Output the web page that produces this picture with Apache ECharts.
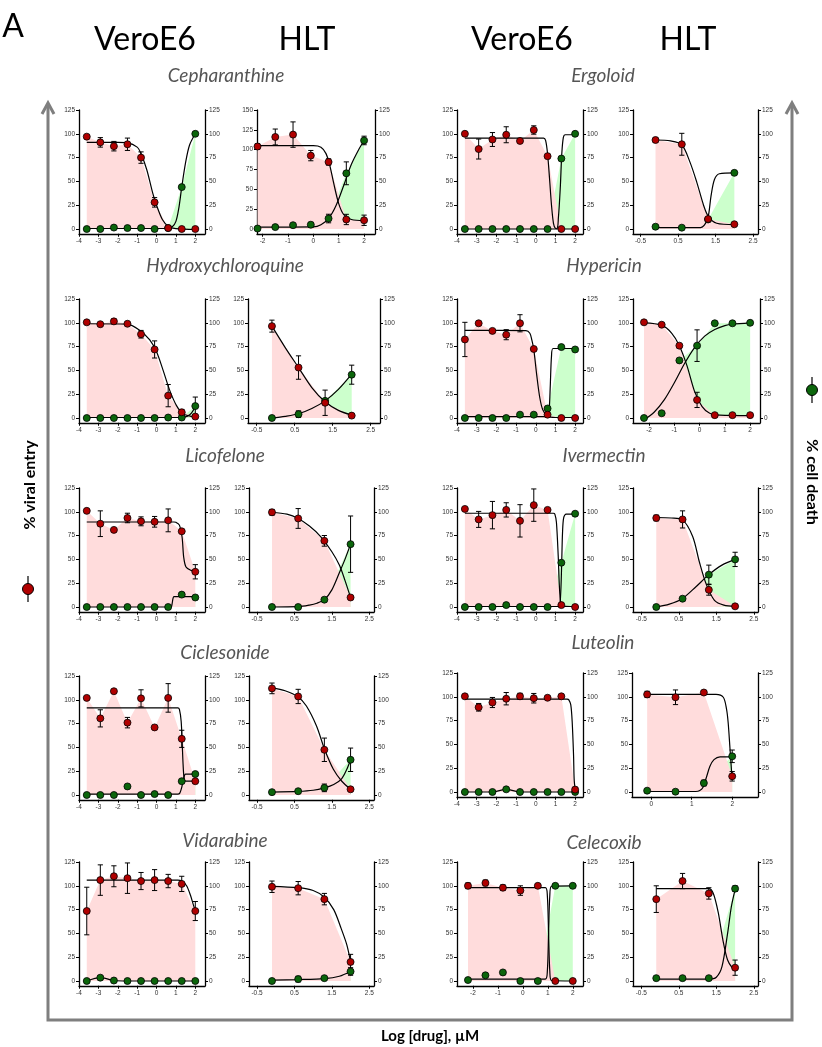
<!DOCTYPE html>
<html><head><meta charset="utf-8">
<script src="https://cdn.jsdelivr.net/npm/echarts@6/dist/echarts.min.js"></script>
<style>html,body{margin:0;padding:0;background:#fff}#c{width:822px;height:1047px}</style>
</head><body><div id="c"></div>
<script>
// ---------- x positions (log µM) ----------
const X9 = [-3.6, -2.9, -2.2, -1.5, -0.8, -0.1, 0.6, 1.3, 2.0];
const X7 = [-2.2, -1.5, -0.8, -0.1, 0.6, 1.3, 2.0];
const X4 = [-0.1, 0.6, 1.3, 2.0];

// ---------- tick labels ----------
const TICKS_Y = [0, 25, 50, 75, 100, 125];
const TICKS_Y150 = [0, 25, 50, 75, 100, 125, 150];
const TICKS_VERO = [-4, -3, -2, -1, 0, 1, 2];
const TICKS_LOG2 = [-2, -1, 0, 1, 2];
const TICKS_HALF = [-0.5, 0.5, 1.5, 2.5];
const TICKS_INT = [0, 1, 2];

const COLUMN_TITLES = ['VeroE6', 'HLT', 'VeroE6', 'HLT'];
const DRUGS = ['Cepharanthine', 'Ergoloid', 'Hydroxychloroquine', 'Hypericin', 'Licofelone',
  'Ivermectin', 'Ciclesonide', 'Luteolin', 'Vidarabine', 'Celecoxib'];

// ---------- Cepharanthine ----------
const cephVeroEntry = [97, 91, 87, 89, 75, 28, 1, 0, 0];
const cephVeroEntryErr = [null, 5, 5, 6.5, 6, 5, null, null, null];
const cephVeroDeath = [0, 0, 1.5, 1, 1, 0, 1, 44, 100];
const cephVeroDeathErr = [];
const cephVeroEntryFit = [[-3.6, 91], [-2, 91], [-1.5, 90.5], [-1.0, 86], [-0.8, 79], [-0.5, 62], [-0.2, 38], [0, 25], [0.3, 10], [0.6, 3], [1.0, 0.3], [2.0, -0.5]];
const cephVeroDeathFit = [[-3.6, 0.5], [0.5, 0.5], [0.8, 2], [1.0, 8], [1.15, 22], [1.3, 44], [1.5, 70], [1.7, 88], [2.0, 100]];

const cephHltEntry = [104, 116, 119, 92.5, 84.5, 12, 11];
const cephHltEntryErr = [3.5, 10, 16, 6.5, 4, 6.5, 6.5];
const cephHltDeath = [0.5, 2, 4, 4.5, 11, 58.5, 93];
const cephHltDeathErr = [null, null, null, 2.5, 4.5, 12, 4.5];
const cephHltEntryFit = [[-2.2, 105], [0, 105], [0.3, 103], [0.5, 95], [0.65, 80], [0.8, 58], [1.0, 32], [1.2, 18], [1.5, 12], [2.0, 10.5]];
const cephHltDeathFit = [[-2.2, 2], [0, 2.2], [0.3, 4.5], [0.6, 11], [0.9, 25], [1.2, 46], [1.5, 68], [1.8, 84], [2.0, 93]];

// ---------- Ergoloid ----------
const ergoVeroEntry = [100, 84, 94, 99, 92.5, 104, 76.5, 0, 0];
const ergoVeroEntryErr = [null, 10.5, 7.3, 8.4, null, 4.4, null, null, null];
const ergoVeroDeath = [0, 0, 0, 0, 0, 0, 0, 74, 100];
const ergoVeroDeathErr = [];
const ergoVeroEntryFit = [[-3.6, 95.5], [0.4, 95.5], [0.5, 93], [0.6, 79], [0.7, 53], [0.8, 25], [0.9, 6], [1.0, 0.7], [1.2, 0], [2.0, 0]];
const ergoVeroDeathFit = [[-3.6, 0], [1.05, 0], [1.15, 12], [1.25, 45], [1.32, 78], [1.4, 96], [1.5, 99], [2.0, 99]];

const ergoHltEntry = [93.5, 89, 10.5, 5];
const ergoHltEntryErr = [2.3, 11.5, null, null];
const ergoHltDeath = [2.4, 1.4, 10, 59];
const ergoHltDeathErr = [];
const ergoHltEntryFit = [[-0.1, 93.5], [0.3, 92.5], [0.6, 88.5], [0.82, 70], [1.0, 49], [1.18, 25], [1.31, 13], [1.53, 6], [2.0, 4.5]];
const ergoHltDeathFit = [[-0.1, 1.5], [1.1, 1.5], [1.2, 4], [1.3, 12], [1.38, 35], [1.47, 52], [1.6, 58], [2.0, 59]];

// ---------- Hydroxychloroquine ----------
const hcqVeroEntry = [100.5, 98.5, 101.5, 99, 88, 72, 23.5, 6, 1.5];
const hcqVeroEntryErr = [null, null, 2.5, null, 4, 9, 11.7, 3, null];
const hcqVeroDeath = [0, 0, 0, 0, 0, 0, 0.5, 0.5, 12.5];
const hcqVeroDeathErr = [null, null, null, null, null, null, null, null, 9.5];
const hcqVeroEntryFit = [[-3.6, 99], [-1.5, 98.7], [-0.86, 92], [-0.35, 82], [0, 69.5], [0.34, 50], [0.68, 29], [1.03, 13], [1.37, 4.5], [2.0, 1]];
const hcqVeroDeathFit = [[-3.6, 0.5], [1.3, 0.5], [1.6, 2], [1.8, 5], [2.0, 12]];

const hcqHltEntry = [96.5, 53, 16, 2.5];
const hcqHltEntryErr = [6.3, 12.3, 13.3, null];
const hcqHltDeath = [0, 4, 18, 45.5];
const hcqHltDeathErr = [null, 3.5, null, 10];
const hcqHltEntryFit = [[-0.1, 96.5], [0.25, 74], [0.6, 53], [0.95, 32], [1.3, 17], [1.65, 8], [2.0, 3]];
const hcqHltDeathFit = [[-0.1, 0], [0.25, 1.8], [0.6, 4.5], [0.95, 10], [1.3, 18], [1.65, 30], [2.0, 46]];

// ---------- Hypericin ----------
const hypVeroEntry = [82.5, 99.5, 91.5, 87.5, 99.5, 72.5, 3.5, 0, 0];
const hypVeroEntryErr = [18, null, null, 5.3, 9, null, null, null, null];
const hypVeroDeath = [0, 0, 0, 0, 3.5, 3.5, 10, 74.5, 72];
const hypVeroDeathErr = [];
const hypVeroEntryFit = [[-3.6, 92], [-0.5, 91.8], [-0.3, 89], [-0.2, 82], [-0.1, 72], [0.05, 45], [0.2, 22], [0.35, 9], [0.6, 2], [1.0, 0.5], [2.0, 0.5]];
const hypVeroDeathFit = [[-3.6, 1.5], [0.6, 1.5], [0.68, 8], [0.74, 35], [0.8, 65], [0.88, 73], [2.0, 73]];

const hypHltEntry = [100.5, 98, 76, 19, 3, 3, 3];
const hypHltEntryErr = [null, null, null, 8, null, null, null];
const hypHltDeath = [0, 5, 60.5, 76, 99.5, 99.5, 100];
const hypHltDeathErr = [null, null, null, 16.6, null, null, null];
const hypHltEntryFit = [[-2.2, 100], [-1.5, 97.5], [-1.1, 89], [-0.8, 76], [-0.5, 55], [-0.2, 28], [0.1, 12], [0.4, 5], [0.8, 3], [2.0, 2.5]];
const hypHltDeathFit = [[-2.2, -2], [-1.8, 6], [-1.4, 19], [-1.0, 37], [-0.6, 57], [-0.2, 74], [0.2, 86], [0.6, 93], [1.0, 97], [1.3, 98.5], [2.0, 100]];

// ---------- Licofelone ----------
const licoVeroEntry = [101, 87.5, 81, 93.5, 90, 89.5, 91, 79.5, 37];
const licoVeroEntryErr = [null, 13.5, null, 5, 4.7, 5.6, 12, null, 7.5];
const licoVeroDeath = [0, 0, 0, 0, 0, 0, 0, 13, 10];
const licoVeroDeathErr = [];
const licoVeroEntryFit = [[-3.6, 89.3], [0.9, 89.3], [1.0, 89], [1.18, 86], [1.32, 73], [1.4, 52.5], [1.52, 42], [1.78, 38.5], [2.0, 37.5]];
const licoVeroDeathFit = [[-3.6, 0], [0.75, 0], [0.8, 3], [0.85, 9], [0.9, 11], [2.0, 11]];

const licoHltEntry = [99.5, 93, 69.5, 10];
const licoHltEntryErr = [3, 10.4, 5.6, null];
const licoHltDeath = [0, 0, 7.7, 66];
const licoHltDeathErr = [null, null, null, 29.6];
const licoHltEntryFit = [[-0.1, 99.5], [0.3, 97.5], [0.6, 93], [0.9, 85], [1.2, 74], [1.5, 58], [1.7, 44], [1.85, 28], [2.0, 10]];
const licoHltDeathFit = [[-0.1, 0], [0.6, 0.3], [0.9, 2], [1.1, 4], [1.3, 7.7], [1.5, 18], [1.7, 36], [1.85, 50], [2.0, 66]];

// ---------- Ivermectin ----------
const iverVeroEntry = [103, 92, 96.5, 102, 90.5, 107, 102, 2, 0];
const iverVeroEntryErr = [null, 8.4, 14.4, 7.5, 17, 17, null, null, null];
const iverVeroDeath = [0, 0, 0, 2, 0, 0, 0, 46.5, 98];
const iverVeroDeathErr = [];
const iverVeroEntryFit = [[-3.6, 98.5], [0.9, 98.5], [0.97, 97.5], [1.05, 89], [1.14, 54], [1.2, 22], [1.27, 4.6], [1.39, 1], [2.0, 0.5]];
const iverVeroDeathFit = [[-3.6, 0.5], [1.18, 0.5], [1.23, 3], [1.28, 20], [1.32, 48], [1.36, 78], [1.42, 94], [1.55, 97.5], [2.0, 97.5]];

const iverHltEntry = [93.5, 92, 18, 0.7];
const iverHltEntryErr = [3, 9, 5.6, null];
const iverHltDeath = [0, 8.7, 34, 50];
const iverHltDeathErr = [null, null, 10, 7.5];
const iverHltEntryFit = [[-0.1, 94], [0.3, 93.5], [0.6, 91.5], [0.87, 74], [1.05, 47], [1.23, 24], [1.45, 7], [1.7, 2], [2.0, 0.7]];
const iverHltDeathFit = [[-0.1, 0], [0.25, 3], [0.6, 9], [0.95, 21], [1.3, 34], [1.65, 44], [2.0, 50]];

// ---------- Ciclesonide ----------
const ciclVeroEntry = [102, 80.5, 109, 76, 101.5, 71, 102, 59, 14.5];
const ciclVeroEntryErr = [null, 9, null, 5.5, 9, null, 15, 9, null];
const ciclVeroDeath = [0, 0, 0, 9, 0, 1, 0, 14.5, 22];
const ciclVeroDeathErr = [];
const ciclVeroEntryFit = [[-3.6, 91.5], [1.1, 91.5], [1.18, 90], [1.27, 77.5], [1.32, 56.5], [1.37, 32], [1.42, 18], [1.5, 14.5], [2.0, 14.5]];
const ciclVeroDeathFit = [[-3.6, 1], [1.1, 1], [1.2, 2], [1.3, 8], [1.38, 16], [1.45, 21], [1.5, 22], [2.0, 22]];

const ciclHltEntry = [112, 103.5, 47.5, 6];
const ciclHltEntryErr = [5.6, 7.5, 12.3, null];
const ciclHltDeath = [3, 4, 7.5, 37];
const ciclHltDeathErr = [null, null, 4, 12.3];
const ciclHltEntryFit = [[-0.1, 112.5], [0.25, 109.5], [0.6, 103], [0.82, 93.5], [1.09, 72.5], [1.31, 47.5], [1.54, 27], [1.76, 14.7], [2.0, 6]];
const ciclHltDeathFit = [[-0.1, 3], [0.6, 3.8], [1.0, 5], [1.3, 7.5], [1.55, 11], [1.76, 17], [1.9, 27], [2.0, 37]];

// ---------- Luteolin ----------
const luteVeroEntry = [100.5, 89, 94, 98, 100.5, 98.5, 99, 100.5, 2.5];
const luteVeroEntryErr = [null, 4, 5.3, 6.5, 3.2, 5, null, 1.5, 2.5];
const luteVeroDeath = [0, 0, 0, 2.8, 0, 0, 0, 0, 0];
const luteVeroDeathErr = [];
const luteVeroEntryFit = [[-3.6, 97.5], [1.6, 97.5], [1.68, 96.8], [1.78, 91.5], [1.85, 74], [1.92, 38.7], [1.95, 14], [2.0, 2.5]];
const luteVeroDeathFit = [[-3.6, 0], [-2.9, 0], [-2.2, 0], [-1.5, 2.8], [-0.8, 0], [-0.1, 0], [0.6, 0], [1.3, 0], [2.0, 0]];

const luteHltEntry = [102.5, 99.5, 104.5, 16.5];
const luteHltEntryErr = [3.3, 7.7, 2, 5];
const luteHltDeath = [1.4, 0.3, 9.4, 37.5];
const luteHltDeathErr = [null, null, 3, 6.6];
const luteHltEntryFit = [[-0.1, 102.5], [1.6, 102.5], [1.78, 99.5], [1.86, 87], [1.9, 73], [1.94, 49], [1.98, 24], [2.0, 13]];
const luteHltDeathFit = [[-0.1, 0.5], [1.1, 0.5], [1.2, 1.5], [1.28, 5], [1.36, 15], [1.45, 27], [1.55, 34], [1.7, 37], [2.0, 37]];

// ---------- Vidarabine ----------
const vidaVeroEntry = [73.5, 106, 110, 108, 105, 106, 105, 102, 73.5];
const vidaVeroEntryErr = [25, 16, 11, 16, 9, 11, 7, 8, 10];
const vidaVeroDeath = [0, 3.5, 0.5, 0, 0, 0, 0, 0, 0];
const vidaVeroDeathErr = [];
const vidaVeroEntryFit = [[-3.6, 106], [1.1, 106], [1.3, 105], [1.55, 100], [1.75, 90], [1.9, 80], [2.0, 74]];
const vidaVeroDeathFit = [[-3.6, 0], [-2.9, 3.5], [-2.2, 0.5], [-1.5, 0], [-0.8, 0], [-0.1, 0], [0.6, 0], [1.3, 0], [2.0, 0]];

const vidaHltEntry = [99, 97.5, 86, 20];
const vidaHltEntryErr = [6, 7, 6, 8];
const vidaHltDeath = [0, 2, 3, 10];
const vidaHltDeathErr = [null, 3, null, 4];
const vidaHltEntryFit = [[-0.1, 99.5], [0.6, 98], [1.0, 95], [1.3, 88], [1.55, 75], [1.75, 55], [1.9, 38], [2.0, 20]];
const vidaHltDeathFit = [[-0.1, 1], [0.6, 1.5], [1.3, 2.5], [1.7, 5], [2.0, 10]];

// ---------- Celecoxib ----------
const celeVeroEntry = [100, 103, 98, 95, 100, 0, 0];
const celeVeroEntryErr = [3, 3, 3, 5, null, null, null];
const celeVeroDeath = [1, 6, 9, 0, 0, 100, 100];
const celeVeroDeathErr = [];
const celeVeroEntryFit = [[-2.2, 98], [0.9, 98], [0.98, 90], [1.03, 50], [1.08, 10], [1.15, 0.5], [2.0, 0]];
const celeVeroDeathFit = [[-2.2, 2], [0.9, 2], [0.98, 10], [1.03, 50], [1.08, 90], [1.15, 99.5], [2.0, 100]];

const celeHltEntry = [86, 105, 92, 14];
const celeHltEntryErr = [14, 8, 6, 8];
const celeHltDeath = [3, 3, 3, 97];
const celeHltDeathErr = [null, null, null, 3];
const celeHltEntryFit = [[-0.1, 97], [1.3, 97], [1.42, 92], [1.55, 72], [1.68, 42], [1.8, 22], [1.92, 14], [2.0, 12]];
const celeHltDeathFit = [[-0.1, 2], [1.3, 2], [1.5, 4], [1.65, 15], [1.8, 50], [1.9, 78], [2.0, 96]];

// ---------- layout (pixels) ----------
const PANELS = [
  {x: X9, e: cephVeroEntry, ee: cephVeroEntryErr, d: cephVeroDeath, de: cephVeroDeathErr, ef: cephVeroEntryFit, df: cephVeroDeathFit, l: 79, r: 205, t: 110, b: 229, xmin: -4, xmax: 2.5, xt: TICKS_VERO},
  {x: X7, e: cephHltEntry, ee: cephHltEntryErr, d: cephHltDeath, de: cephHltDeathErr, ef: cephHltEntryFit, df: cephHltDeathFit, l: 257, r: 375, t: 110, b: 229, xmin: -2.22, xmax: 2.43, xt: TICKS_LOG2, lmax: 150},
  {x: X9, e: ergoVeroEntry, ee: ergoVeroEntryErr, d: ergoVeroDeath, de: ergoVeroDeathErr, ef: ergoVeroEntryFit, df: ergoVeroDeathFit, l: 457, r: 583, t: 110, b: 229, xmin: -4, xmax: 2.4, xt: TICKS_VERO},
  {x: X4, e: ergoHltEntry, ee: ergoHltEntryErr, d: ergoHltDeath, de: ergoHltDeathErr, ef: ergoHltEntryFit, df: ergoHltDeathFit, l: 633, r: 758, t: 110, b: 229, xmin: -0.7, xmax: 2.63, xt: TICKS_HALF},

  {x: X9, e: hcqVeroEntry, ee: hcqVeroEntryErr, d: hcqVeroDeath, de: hcqVeroDeathErr, ef: hcqVeroEntryFit, df: hcqVeroDeathFit, l: 79, r: 205, t: 299, b: 418, xmin: -4, xmax: 2.5, xt: TICKS_VERO},
  {x: X4, e: hcqHltEntry, ee: hcqHltEntryErr, d: hcqHltDeath, de: hcqHltDeathErr, ef: hcqHltEntryFit, df: hcqHltDeathFit, l: 248, r: 380, t: 299, b: 418, xmin: -0.73, xmax: 2.745, xt: TICKS_HALF},
  {x: X9, e: hypVeroEntry, ee: hypVeroEntryErr, d: hypVeroDeath, de: hypVeroDeathErr, ef: hypVeroEntryFit, df: hypVeroDeathFit, l: 457, r: 583, t: 299, b: 418, xmin: -4, xmax: 2.4, xt: TICKS_VERO},
  {x: X7, e: hypHltEntry, ee: hypHltEntryErr, d: hypHltDeath, de: hypHltDeathErr, ef: hypHltEntryFit, df: hypHltDeathFit, l: 633, r: 760, t: 299, b: 418, xmin: -2.635, xmax: 2.39, xt: TICKS_LOG2},

  {x: X9, e: licoVeroEntry, ee: licoVeroEntryErr, d: licoVeroDeath, de: licoVeroDeathErr, ef: licoVeroEntryFit, df: licoVeroDeathFit, l: 79, r: 205, t: 488, b: 607, xmin: -4, xmax: 2.5, xt: TICKS_VERO},
  {x: X4, e: licoHltEntry, ee: licoHltEntryErr, d: licoHltDeath, de: licoHltDeathErr, ef: licoHltEntryFit, df: licoHltDeathFit, l: 249, r: 374, t: 488, b: 607, xmin: -0.714, xmax: 2.626, xt: TICKS_HALF},
  {x: X9, e: iverVeroEntry, ee: iverVeroEntryErr, d: iverVeroDeath, de: iverVeroDeathErr, ef: iverVeroEntryFit, df: iverVeroDeathFit, l: 457, r: 583, t: 488, b: 607, xmin: -4, xmax: 2.4, xt: TICKS_VERO},
  {x: X4, e: iverHltEntry, ee: iverHltEntryErr, d: iverHltDeath, de: iverHltDeathErr, ef: iverHltEntryFit, df: iverHltDeathFit, l: 633, r: 758, t: 488, b: 607, xmin: -0.72, xmax: 2.61, xt: TICKS_HALF},

  {x: X9, e: ciclVeroEntry, ee: ciclVeroEntryErr, d: ciclVeroDeath, de: ciclVeroDeathErr, ef: ciclVeroEntryFit, df: ciclVeroDeathFit, l: 79, r: 205, t: 676, b: 795, xmin: -4, xmax: 2.5, xt: TICKS_VERO},
  {x: X4, e: ciclHltEntry, ee: ciclHltEntryErr, d: ciclHltDeath, de: ciclHltDeathErr, ef: ciclHltEntryFit, df: ciclHltDeathFit, l: 249, r: 374, t: 676, b: 795, xmin: -0.714, xmax: 2.626, xt: TICKS_HALF},
  {x: X9, e: luteVeroEntry, ee: luteVeroEntryErr, d: luteVeroDeath, de: luteVeroDeathErr, ef: luteVeroEntryFit, df: luteVeroDeathFit, l: 457, r: 583, t: 673, b: 792, xmin: -4, xmax: 2.4, xt: TICKS_VERO},
  {x: X4, e: luteHltEntry, ee: luteHltEntryErr, d: luteHltDeath, de: luteHltDeathErr, ef: luteHltEntryFit, df: luteHltDeathFit, l: 632, r: 758, t: 673, b: 792, xmin: -0.474, xmax: 2.637, xt: TICKS_INT},

  {x: X9, e: vidaVeroEntry, ee: vidaVeroEntryErr, d: vidaVeroDeath, de: vidaVeroDeathErr, ef: vidaVeroEntryFit, df: vidaVeroDeathFit, l: 79, r: 205, t: 862, b: 981, xmin: -4, xmax: 2.5, xt: TICKS_VERO},
  {x: X4, e: vidaHltEntry, ee: vidaHltEntryErr, d: vidaHltDeath, de: vidaHltDeathErr, ef: vidaHltEntryFit, df: vidaHltDeathFit, l: 249, r: 374, t: 862, b: 981, xmin: -0.714, xmax: 2.626, xt: TICKS_HALF},
  {x: X7, e: celeVeroEntry, ee: celeVeroEntryErr, d: celeVeroDeath, de: celeVeroDeathErr, ef: celeVeroEntryFit, df: celeVeroDeathFit, l: 457, r: 583, t: 862, b: 981, xmin: -2.64, xmax: 2.41, xt: TICKS_LOG2},
  {x: X4, e: celeHltEntry, ee: celeHltEntryErr, d: celeHltDeath, de: celeHltDeathErr, ef: celeHltEntryFit, df: celeHltDeathFit, l: 633, r: 758, t: 862, b: 981, xmin: -0.72, xmax: 2.61, xt: TICKS_HALF}
];

const RED = '#B00000', GREEN = '#0B650B', PINK = '#FFDCDC', LIGHTGREEN = '#CCFFCC';
const YMIN_FRAC = 5 / 125;
const LABEL_FONT = {fontSize: 6.5, color: '#333', fontFamily: 'Liberation Sans'};

const grid = [], xAxis = [], yAxis = [], series = [];

function zip(xs, ys) { return xs.map((x, k) => [x, ys[k]]); }

function errSeries(xs, ys, errs, xi, yi) {
  const data = [];
  xs.forEach((x, k) => { if (errs[k] != null) data.push([x, ys[k] - errs[k], ys[k] + errs[k]]); });
  return {
    type: 'custom', xAxisIndex: xi, yAxisIndex: yi, data: data, z: 4, silent: true,
    encode: {x: 0, y: [1, 2]},
    renderItem: function (params, api) {
      const x = api.value(0), lo = api.value(1), hi = api.value(2);
      const p1 = api.coord([x, lo]), p2 = api.coord([x, hi]);
      const cw = 2.6, st = {stroke: '#000', lineWidth: 1};
      return {type: 'group', children: [
        {type: 'line', shape: {x1: p1[0], y1: p1[1], x2: p2[0], y2: p2[1]}, style: st},
        {type: 'line', shape: {x1: p1[0] - cw, y1: p1[1], x2: p1[0] + cw, y2: p1[1]}, style: st},
        {type: 'line', shape: {x1: p2[0] - cw, y1: p2[1], x2: p2[0] + cw, y2: p2[1]}, style: st}
      ]};
    }
  };
}

PANELS.forEach((P, i) => {
  const h = (P.b - P.t) * (1 + YMIN_FRAC);
  grid.push({left: P.l, top: P.t, width: P.r - P.l, height: h, containLabel: false, outerBoundsMode: 'none'});
  xAxis.push({
    type: 'value', gridIndex: i, min: P.xmin, max: P.xmax,
    axisLine: {show: true, onZero: false, lineStyle: {color: '#000', width: 1.3}},
    axisTick: {show: true, customValues: P.xt, length: 3, lineStyle: {color: '#000', width: 1}},
    axisLabel: Object.assign({customValues: P.xt, margin: 4}, LABEL_FONT),
    splitLine: {show: false}
  });
  const lmax = P.lmax || 125;
  const lt = P.lmax ? TICKS_Y150 : TICKS_Y;
  [['left', lmax, lt], ['right', 125, TICKS_Y]].forEach(([pos, mx, tk]) => {
    yAxis.push({
      type: 'value', gridIndex: i, position: pos, min: -mx * YMIN_FRAC, max: mx,
      axisLine: {show: true, onZero: false, lineStyle: {color: '#000', width: 1.3}},
      axisTick: {show: true, customValues: tk, length: 3, lineStyle: {color: '#000', width: 1}},
      axisLabel: Object.assign({customValues: tk, margin: 4}, LABEL_FONT),
      splitLine: {show: false}
    });
  });
  const yl = 2 * i, yr = 2 * i + 1;
  // fills: green (cell death) under, pink (viral entry) over
  series.push({type: 'line', xAxisIndex: i, yAxisIndex: yr, data: zip(P.x, P.d), symbol: 'none', silent: true,
    lineStyle: {width: 0}, areaStyle: {color: LIGHTGREEN, opacity: 1}, z: 1});
  series.push({type: 'line', xAxisIndex: i, yAxisIndex: yl, data: zip(P.x, P.e), symbol: 'none', silent: true,
    lineStyle: {width: 0}, areaStyle: {color: PINK, opacity: 1}, z: 2});
  // fitted curves
  series.push({type: 'line', xAxisIndex: i, yAxisIndex: yl, data: P.ef, symbol: 'none', silent: true,
    smooth: 0.3, lineStyle: {color: '#000', width: 1.2}, z: 3});
  series.push({type: 'line', xAxisIndex: i, yAxisIndex: yr, data: P.df, symbol: 'none', silent: true,
    smooth: 0.3, lineStyle: {color: '#000', width: 1.2}, z: 3});
  // error bars
  series.push(errSeries(P.x, P.d, P.de, i, yr));
  series.push(errSeries(P.x, P.e, P.ee, i, yl));
  // points
  series.push({type: 'scatter', xAxisIndex: i, yAxisIndex: yr, data: zip(P.x, P.d), symbol: 'circle', symbolSize: 7,
    itemStyle: {color: GREEN, borderColor: '#000', borderWidth: 0.8, opacity: 1}, z: 5, silent: true});
  series.push({type: 'scatter', xAxisIndex: i, yAxisIndex: yl, data: zip(P.x, P.e), symbol: 'circle', symbolSize: 7,
    itemStyle: {color: RED, borderColor: '#000', borderWidth: 0.8, opacity: 1}, z: 6, silent: true});
});

// ---------- texts & frame ----------
const graphic = [];
function txt(x, y, text, font, fill, rot) {
  graphic.push({type: 'text', x: x, y: y, rotation: rot || 0, silent: true, z: 10,
    style: {text: text, font: font, fill: fill || '#000', textAlign: 'center', textVerticalAlign: 'middle'}});
}
txt(13, 27, 'A', '32px Lato', '#000');
const titleX = [145, 307, 522, 688];
COLUMN_TITLES.forEach((t, k) => txt(titleX[k], 40, t, '32px Lato', '#000'));
const drugPos = [[226, 76], [603, 76], [225, 266], [604, 266], [225, 456], [604, 456], [225, 653], [603, 643], [225, 841], [604, 843]];
DRUGS.forEach((d, k) => txt(drugPos[k][0], drugPos[k][1], d, 'italic 19px Lato', '#555'));
txt(30, 485, '% viral entry', 'bold 16px Lato', '#000', Math.PI / 2);
txt(812, 482, '% cell death', 'bold 16px Lato', '#000', -Math.PI / 2);
txt(430, 1036, 'Log [drug], µM', 'bold 15px Lato', '#000');

const frame = {stroke: '#7F7F7F', lineWidth: 3, fill: null};
graphic.push({type: 'polyline', silent: true, shape: {points: [[48, 104], [48, 1020], [792, 1020], [792, 104]]}, style: frame});
graphic.push({type: 'polyline', silent: true, shape: {points: [[42, 114], [48, 103], [54, 114]]}, style: frame});
graphic.push({type: 'polyline', silent: true, shape: {points: [[786, 114], [792, 103], [798, 114]]}, style: frame});
// legend symbols
graphic.push({type: 'line', silent: true, shape: {x1: 28, y1: 576, x2: 28, y2: 602}, style: {stroke: '#000', lineWidth: 1.2}});
graphic.push({type: 'circle', silent: true, shape: {cx: 28, cy: 589, r: 5.5}, style: {fill: RED, stroke: '#000', lineWidth: 1}});
graphic.push({type: 'line', silent: true, shape: {x1: 812, y1: 377, x2: 812, y2: 403}, style: {stroke: '#000', lineWidth: 1.2}});
graphic.push({type: 'circle', silent: true, shape: {cx: 812, cy: 390, r: 5.5}, style: {fill: GREEN, stroke: '#000', lineWidth: 1}});

const chart = echarts.init(document.getElementById('c'), null, {renderer: 'canvas'});
chart.setOption({
  backgroundColor: '#fff',
  animation: false,
  grid: grid, xAxis: xAxis, yAxis: yAxis, series: series, graphic: graphic
});
</script></body></html>
